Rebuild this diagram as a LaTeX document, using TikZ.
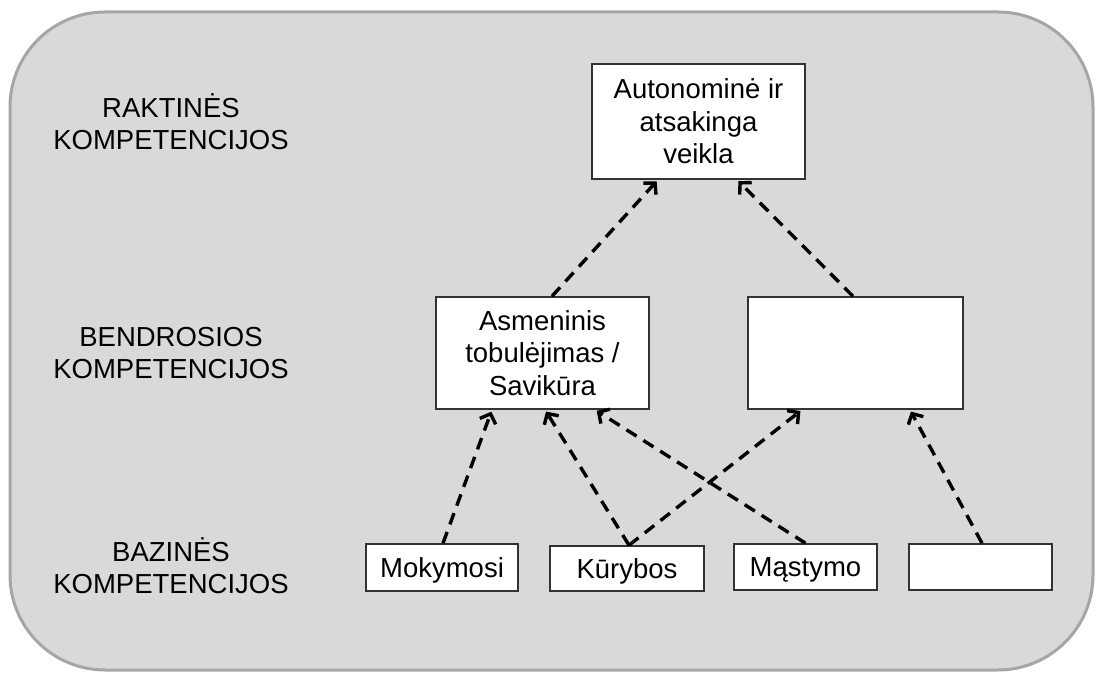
\documentclass[tikz,border=0pt]{standalone}
\usepackage{fontspec}
\setmainfont{Liberation Sans}
\usetikzlibrary{arrows.meta}
\definecolor{bgfill}{HTML}{D9D9D9}
\definecolor{bgline}{HTML}{A6A6A6}
\definecolor{boxline}{HTML}{333333}
\begin{document}
\begin{tikzpicture}[x=1pt,y=-1pt,
  box/.style={draw=boxline, line width=1.6pt, fill=white, inner sep=0pt, align=center, font=\fontsize{27.5}{32.5}\selectfont},
  one/.style={text height=19.7pt, text depth=0pt},
  lbl/.style={align=center, inner sep=0pt, font=\fontsize{27.5}{32}\selectfont},
  link/.style={draw=black, line width=3.4pt, dash pattern=on 12pt off 8pt, -{Straight Barb[length=8pt,width=17pt]}, shorten >=2pt}]
\useasboundingbox (0,0) rectangle (1096,674);
\draw[draw=bgline, fill=bgfill, line width=3pt, rounded corners=95pt] (10,12) rectangle (1093,670);

% level labels
\node[lbl] (l1) at (171,122) {RAKTINĖS\\KOMPETENCIJOS};
\node[lbl] (l2) at (171,353) {BENDROSIOS\\KOMPETENCIJOS};
\node[lbl] (l3) at (171,566) {BAZINĖS\\KOMPETENCIJOS};

% boxes
\node[box, minimum width=213pt, minimum height=115pt] (top) at (698.5,121.5) {Autonominė ir\\atsakinga\\veikla};
\node[box, minimum width=213pt, minimum height=112pt] (asm) at (542.5,353) {Asmeninis\\tobulėjimas /\\Savikūra};
\node[box, minimum width=215pt, minimum height=112pt] (rb) at (855.5,353) {};
\node[box, one, minimum width=152pt, minimum height=47pt] (mok) at (442,567.5) {Mokymosi};
\node[box, one, minimum width=154pt, minimum height=45pt] (kur) at (627,568.5) {Kūrybos};
\node[box, one, minimum width=143pt, minimum height=46pt] (mas) at (805.5,567) {Mąstymo};
\node[box, minimum width=143pt, minimum height=46pt] (bl) at (980.5,567) {};

% connectors
\draw[link] ([xshift=9.5pt]asm.north) -- ([xshift=-40.5pt]top.south);
\draw[link] ([xshift=-2.5pt]rb.north) -- ([xshift=38.5pt]top.south);
\draw[link] ([xshift=1pt]mok.north) -- ([xshift=-50.5pt]asm.south);
\draw[link] ([xshift=2pt]kur.north) -- ([xshift=2.5pt]asm.south);
\draw[link] ([xshift=2pt]kur.north) -- ([xshift=-53.5pt]rb.south);
\draw[link] (mas.north) -- ([xshift=52.5pt]asm.south);
\draw[link] ([xshift=1.5pt]bl.north) -- ([xshift=54.5pt]rb.south);
\end{tikzpicture}
\end{document}
